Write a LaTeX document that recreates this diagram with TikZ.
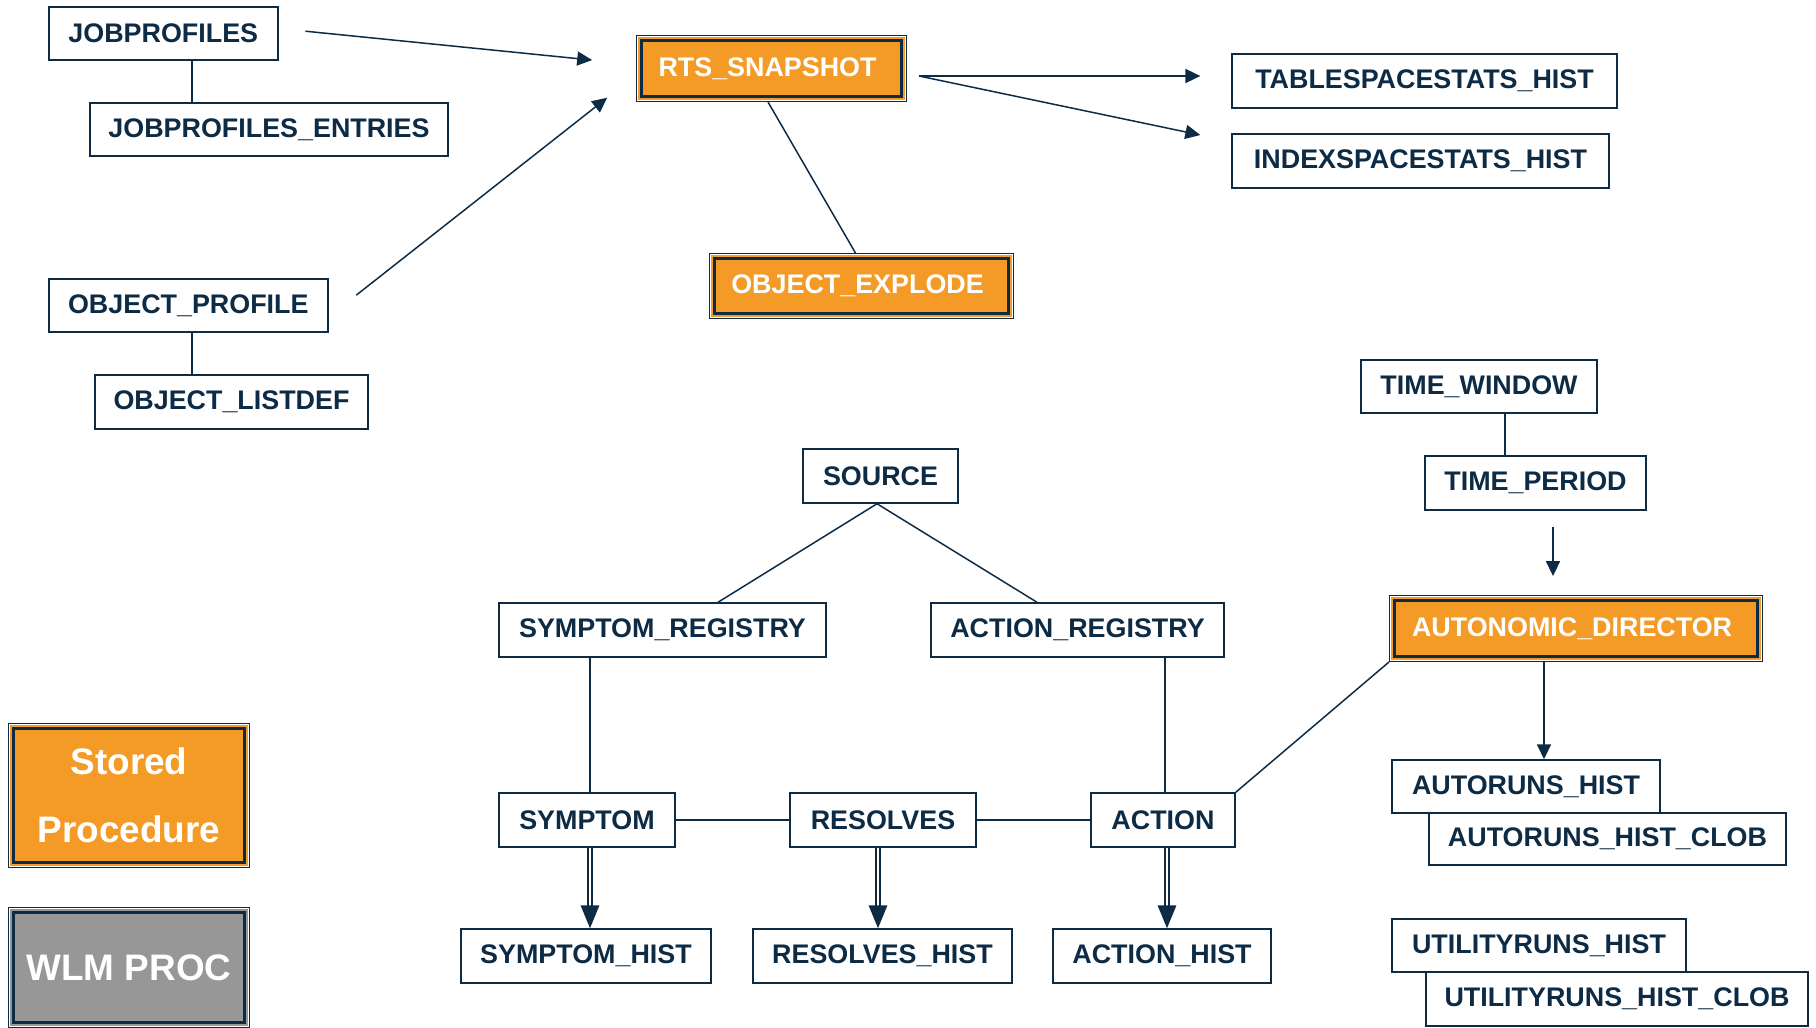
\documentclass[tikz,border=0pt]{standalone}
\usepackage{fontspec}
\setmainfont{Liberation Sans}
\usetikzlibrary{arrows.meta,calc}
\definecolor{navy}{HTML}{0D2B45}
\definecolor{procorange}{HTML}{F49B27}
\definecolor{wlmgray}{HTML}{979797}
\newcommand{\tabfont}{\fontsize{15.3}{17}\selectfont\bfseries}
\newcommand{\legendfont}{\fontsize{21}{38.5}\selectfont\bfseries}
\newcommand{\lft}{\hspace*{-4.5pt}}
% inner white and navy frames of a procedure box
\newcommand{\procframe}[1]{%
  \draw[white, line width=0.74pt] ([shift={(1.65,1.65)}]#1.north west) rectangle ([shift={(-1.65,-1.65)}]#1.south east);
  \draw[navy, line width=1.53pt] ([shift={(5.65,5.65)}]#1.north west) rectangle ([shift={(-5.65,-5.65)}]#1.south east);
}
\begin{document}
\begin{tikzpicture}[x=0.02cm, y=-0.02cm,
  sz/.style 2 args={minimum width=#1*0.02cm, minimum height=#2*0.02cm},
  tbl/.style={draw=navy, line width=0.85pt, fill=white, text=navy, font=\tabfont, inner sep=0pt},
  proc/.style={draw=navy, line width=1.13pt, fill=procorange, text=white, font=\tabfont, inner sep=0pt},
  conn/.style={draw=navy, line width=0.85pt},
  arr/.style={conn, -{Triangle[length=8.5pt, width=8pt]}},
  dbl/.style={draw=navy, line width=0.85pt, double=white, double distance=1.3pt, -{Triangle[length=13pt, width=10.5pt]}}
]
\useasboundingbox (0,0) rectangle (1816,1028);

% upper left tables
\node[tbl, sz={229}{53}] (jp)  at (163.3,33.5) {JOBPROFILES};
\node[tbl, sz={358}{53}] (jpe) at (269,129.5) {JOBPROFILES\_ENTRIES};
\node[tbl, sz={279}{53}] (op)  at (188.3,305.5) {OBJECT\_PROFILE};
\node[tbl, sz={273}{54}] (ol)  at (231.5,402) {OBJECT\_LISTDEF};

% snapshot procedures
\node[proc, sz={269}{65}] (rts) at (771.5,68.5) {\lft RTS\_SNAPSHOT};
\procframe{rts}
\node[proc, sz={303}{64}] (oe) at (861.5,286) {\lft OBJECT\_EXPLODE};
\procframe{oe}

\node[tbl, sz={385}{54}] (tsh) at (1424.5,81) {TABLESPACESTATS\_HIST};
\node[tbl, sz={377}{54}] (ish) at (1420.5,161) {INDEXSPACESTATS\_HIST};

% scheduling
\node[tbl, sz={236}{53}] (tw) at (1479,386.5) {TIME\_WINDOW};
\node[tbl, sz={221}{54}] (tp) at (1535.5,483) {TIME\_PERIOD};
\node[proc, sz={372}{65}] (ad) at (1576,628.5) {\lft AUTONOMIC\_DIRECTOR};
\procframe{ad}
\node[tbl, sz={268}{53}] (arh) at (1526,786.5) {AUTORUNS\_HIST};
\node[tbl, sz={357}{52}] (arc) at (1607.5,839) {AUTORUNS\_HIST\_CLOB};
\node[tbl, sz={294}{53}] (urh) at (1539,945.5) {UTILITYRUNS\_HIST};
\node[tbl, sz={382}{54}] (urc) at (1617,999) {UTILITYRUNS\_HIST\_CLOB};

% symptom / action model
\node[tbl, sz={155}{54}] (src)  at (880.5,476) {SOURCE};
\node[tbl, sz={327}{54}] (sreg) at (662.5,630) {SYMPTOM\_REGISTRY};
\node[tbl, sz={293}{54}] (areg) at (1077.5,630) {ACTION\_REGISTRY};
\node[tbl, sz={176}{54}] (sym)  at (587,820) {SYMPTOM};
\node[tbl, sz={186}{54}] (res)  at (883,820) {RESOLVES};
\node[tbl, sz={144}{54}] (act)  at (1163,820) {ACTION};
\node[tbl, sz={250}{54}] (symh) at (586,956) {SYMPTOM\_HIST};
\node[tbl, sz={259}{54}] (resh) at (882.5,956) {RESOLVES\_HIST};
\node[tbl, sz={218}{54}] (acth) at (1162,956) {ACTION\_HIST};

% legend
\node[proc, sz={240}{143}, font=\legendfont, align=center] (sp) at (129,795.5) {Stored\\Procedure};
\procframe{sp}
\node[proc, fill=wlmgray, sz={240}{119}, font=\legendfont] (wlm) at (129,967.5) {WLM PROC};
\procframe{wlm}

% connectors
\draw[conn] ([shift={(28.7,0)}]jp.south) -- ([shift={(28.7,0)}]jp.south |- jpe.north);
\draw[conn] ([shift={(3.7,0)}]op.south) -- ([shift={(3.7,0)}]op.south |- ol.north);
\draw[arr, shorten <=15.4pt, shorten >=25.1pt] ([shift={(0,-5)}]jp.east) -- ([shift={(0,-4)}]rts.west);
\draw[arr, shorten <=20.1pt, shorten >=20.9pt] ([shift={(0,11.5)}]op.east) -- ([shift={(0,6.5)}]rts.west);
\draw[conn] ([shift={(-3.5,0)}]rts.south) -- ([shift={(-6,0)}]oe.north);
\coordinate (fan) at ([shift={(12,7.5)}]rts.east);
\draw[arr, shorten >=17.6pt] (fan) -- (fan -| tsh.west);
\draw[arr, shorten >=18pt] (fan) -- ([shift={(0,-19.5)}]ish.west);

\draw[conn] ([shift={(26,0)}]tw.south) -- ([shift={(26,0)}]tw.south |- tp.north);
\draw[arr, shorten <=9pt, shorten >=10.8pt] ([shift={(17.5,0)}]tp.south) -- ([shift={(17.5,0)}]tp.south |- ad.north);
\draw[arr] ([shift={(-32,0)}]ad.south) -- ([shift={(-32,0)}]ad.south |- arh.north);

\draw[conn] ([shift={(-3.5,0)}]src.south) -- ([shift={(55.5,0)}]sreg.north);
\draw[conn] ([shift={(-3.5,0)}]src.south) -- ([shift={(-40.5,0)}]areg.north);
\draw[conn] ([shift={(3,0)}]sym.north |- sreg.south) -- ([shift={(3,0)}]sym.north);
\draw[conn] ([shift={(2,0)}]act.north |- areg.south) -- ([shift={(2,0)}]act.north);
\draw[conn] (sym.east) -- (res.west);
\draw[conn] (res.east) -- (act.west);
\draw[conn] (act.north east) -- (ad.south west);

\draw[dbl] ([shift={(3,0)}]sym.south) -- ([shift={(3,0)}]sym.south |- symh.north);
\draw[dbl] ([shift={(-5,0)}]res.south) -- ([shift={(-5,0)}]res.south |- resh.north);
\draw[dbl] ([shift={(4,0)}]act.south) -- ([shift={(4,0)}]act.south |- acth.north);
\end{tikzpicture}
\end{document}
